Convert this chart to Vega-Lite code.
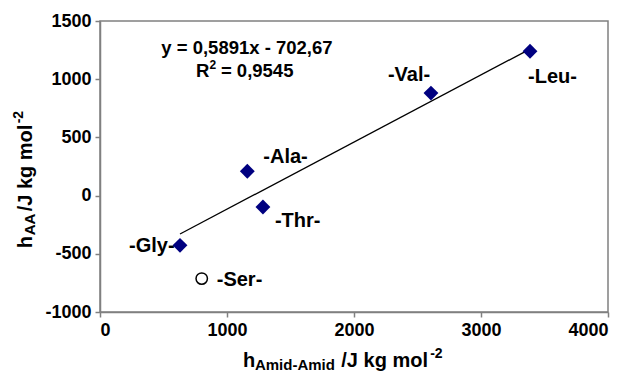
{
  "$schema": "https://vega.github.io/schema/vega-lite/v6.json",
  "width": 508,
  "height": 291,
  "autosize": "none",
  "padding": {"left": 100, "top": 21, "right": 27, "bottom": 61},
  "background": "white",
  "config": {
    "view": {"stroke": "#808080", "strokeWidth": 1.5},
    "axis": {
      "grid": false,
      "title": null,
      "domainColor": "#808080",
      "domainWidth": 1.5,
      "tickColor": "#808080",
      "tickWidth": 1.5,
      "tickSize": 5,
      "labelFont": "Liberation Sans",
      "labelFontWeight": "bold",
      "labelFontSize": 18,
      "labelColor": "black",
      "labelPadding": 4,
      "labelExpr": "'' + datum.value"
    },
    "text": {"font": "Liberation Sans", "fontWeight": "bold", "color": "black"}
  },
  "datasets": {
    "points": [
      {"aa": "Gly", "label": "-Gly-", "x": 630, "y": -427, "kind": "fit"},
      {"aa": "Ala", "label": "-Ala-", "x": 1160, "y": 209, "kind": "fit"},
      {"aa": "Thr", "label": "-Thr-", "x": 1283, "y": -98, "kind": "fit"},
      {"aa": "Val", "label": "-Val-", "x": 2606, "y": 881, "kind": "fit"},
      {"aa": "Leu", "label": "-Leu-", "x": 3386, "y": 1240, "kind": "fit"},
      {"aa": "Ser", "label": "-Ser-", "x": 801, "y": -713, "kind": "outlier"}
    ],
    "trend": [
      {"x": 630, "y": -330},
      {"x": 3370, "y": 1250}
    ],
    "blank": [{}]
  },
  "layer": [
    {
      "data": {"name": "trend"},
      "mark": {"type": "line", "color": "black", "strokeWidth": 1.3},
      "encoding": {
        "x": {"field": "x", "type": "quantitative", "scale": {"domain": [0, 4000], "nice": false}, "axis": {"values": [0, 1000, 2000, 3000, 4000]}},
        "y": {"field": "y", "type": "quantitative", "scale": {"domain": [-1000, 1500], "nice": false}, "axis": {"values": [-1000, -500, 0, 500, 1000, 1500]}}
      }
    },
    {
      "data": {"name": "points"},
      "transform": [{"filter": "datum.kind === 'fit'"}],
      "mark": {"type": "point", "shape": "diamond", "filled": true, "color": "#000080", "size": 220, "opacity": 1},
      "encoding": {
        "x": {"field": "x", "type": "quantitative"},
        "y": {"field": "y", "type": "quantitative"}
      }
    },
    {
      "data": {"name": "points"},
      "transform": [{"filter": "datum.kind === 'outlier'"}],
      "mark": {"type": "point", "shape": "circle", "filled": false, "fill": "white", "stroke": "black", "strokeWidth": 1.5, "size": 130, "opacity": 1},
      "encoding": {
        "x": {"field": "x", "type": "quantitative"},
        "y": {"field": "y", "type": "quantitative"}
      }
    },
    {
      "data": {"name": "points"},
      "transform": [{"filter": "datum.aa === 'Gly'"}],
      "mark": {"type": "text", "fontSize": 20, "align": "left", "baseline": "alphabetic", "dx": -51, "dy": 7},
      "encoding": {"x": {"field": "x", "type": "quantitative"}, "y": {"field": "y", "type": "quantitative"}, "text": {"field": "label"}}
    },
    {
      "data": {"name": "points"},
      "transform": [{"filter": "datum.aa === 'Ala'"}],
      "mark": {"type": "text", "fontSize": 20, "align": "left", "baseline": "alphabetic", "dx": 16, "dy": -8},
      "encoding": {"x": {"field": "x", "type": "quantitative"}, "y": {"field": "y", "type": "quantitative"}, "text": {"field": "label"}}
    },
    {
      "data": {"name": "points"},
      "transform": [{"filter": "datum.aa === 'Thr'"}],
      "mark": {"type": "text", "fontSize": 20, "align": "left", "baseline": "alphabetic", "dx": 12, "dy": 20},
      "encoding": {"x": {"field": "x", "type": "quantitative"}, "y": {"field": "y", "type": "quantitative"}, "text": {"field": "label"}}
    },
    {
      "data": {"name": "points"},
      "transform": [{"filter": "datum.aa === 'Ser'"}],
      "mark": {"type": "text", "fontSize": 20, "align": "left", "baseline": "alphabetic", "dx": 15, "dy": 7},
      "encoding": {"x": {"field": "x", "type": "quantitative"}, "y": {"field": "y", "type": "quantitative"}, "text": {"field": "label"}}
    },
    {
      "data": {"name": "points"},
      "transform": [{"filter": "datum.aa === 'Val'"}],
      "mark": {"type": "text", "fontSize": 20, "align": "left", "baseline": "alphabetic", "dx": -43, "dy": -12},
      "encoding": {"x": {"field": "x", "type": "quantitative"}, "y": {"field": "y", "type": "quantitative"}, "text": {"field": "label"}}
    },
    {
      "data": {"name": "points"},
      "transform": [{"filter": "datum.aa === 'Leu'"}],
      "mark": {"type": "text", "fontSize": 20, "align": "left", "baseline": "alphabetic", "dx": -2, "dy": 32},
      "encoding": {"x": {"field": "x", "type": "quantitative"}, "y": {"field": "y", "type": "quantitative"}, "text": {"field": "label"}}
    },
    {
      "data": {"name": "blank"},
      "mark": {"type": "text", "text": "y = 0,5891x - 702,67", "fontSize": 18.5, "align": "center", "baseline": "alphabetic"},
      "encoding": {"x": {"datum": 1157, "type": "quantitative"}, "y": {"datum": 1214, "type": "quantitative"}}
    },
    {
      "data": {"name": "blank"},
      "mark": {"type": "text", "text": "R", "fontSize": 18.5, "align": "left", "baseline": "alphabetic"},
      "encoding": {"x": {"datum": 755, "type": "quantitative"}, "y": {"datum": 1016, "type": "quantitative"}}
    },
    {
      "data": {"name": "blank"},
      "mark": {"type": "text", "text": "2", "fontSize": 12, "align": "left", "baseline": "alphabetic"},
      "encoding": {"x": {"datum": 862, "type": "quantitative"}, "y": {"datum": 1085, "type": "quantitative"}}
    },
    {
      "data": {"name": "blank"},
      "mark": {"type": "text", "text": "= 0,9545", "fontSize": 18.5, "align": "left", "baseline": "alphabetic"},
      "encoding": {"x": {"datum": 952, "type": "quantitative"}, "y": {"datum": 1016, "type": "quantitative"}}
    },
    {
      "data": {"name": "blank"},
      "mark": {"type": "text", "text": "h", "fontSize": 20, "align": "left", "baseline": "alphabetic"},
      "encoding": {"x": {"datum": 1125, "type": "quantitative"}, "y": {"datum": -1470, "type": "quantitative"}}
    },
    {
      "data": {"name": "blank"},
      "mark": {"type": "text", "text": "Amid-Amid", "fontSize": 15, "align": "left", "baseline": "alphabetic"},
      "encoding": {"x": {"datum": 1220, "type": "quantitative"}, "y": {"datum": -1500, "type": "quantitative"}}
    },
    {
      "data": {"name": "blank"},
      "mark": {"type": "text", "text": "/J kg mol", "fontSize": 20, "align": "left", "baseline": "alphabetic"},
      "encoding": {"x": {"datum": 1900, "type": "quantitative"}, "y": {"datum": -1470, "type": "quantitative"}}
    },
    {
      "data": {"name": "blank"},
      "mark": {"type": "text", "text": "-2", "fontSize": 14, "align": "left", "baseline": "alphabetic"},
      "encoding": {"x": {"datum": 2600, "type": "quantitative"}, "y": {"datum": -1395, "type": "quantitative"}}
    },
    {
      "data": {"name": "blank"},
      "mark": {"type": "text", "text": "h", "fontSize": 20, "align": "left", "baseline": "alphabetic", "angle": 270},
      "encoding": {"x": {"datum": -535, "type": "quantitative"}, "y": {"datum": -453, "type": "quantitative"}}
    },
    {
      "data": {"name": "blank"},
      "mark": {"type": "text", "text": "AA", "fontSize": 15, "align": "left", "baseline": "alphabetic", "angle": 270},
      "encoding": {"x": {"datum": -508, "type": "quantitative"}, "y": {"datum": -341, "type": "quantitative"}}
    },
    {
      "data": {"name": "blank"},
      "mark": {"type": "text", "text": "/J kg mol", "fontSize": 20, "align": "left", "baseline": "alphabetic", "angle": 270},
      "encoding": {"x": {"datum": -535, "type": "quantitative"}, "y": {"datum": -135, "type": "quantitative"}}
    },
    {
      "data": {"name": "blank"},
      "mark": {"type": "text", "text": "-2", "fontSize": 14, "align": "left", "baseline": "alphabetic", "angle": 270},
      "encoding": {"x": {"datum": -606, "type": "quantitative"}, "y": {"datum": 621, "type": "quantitative"}}
    }
  ]
}
